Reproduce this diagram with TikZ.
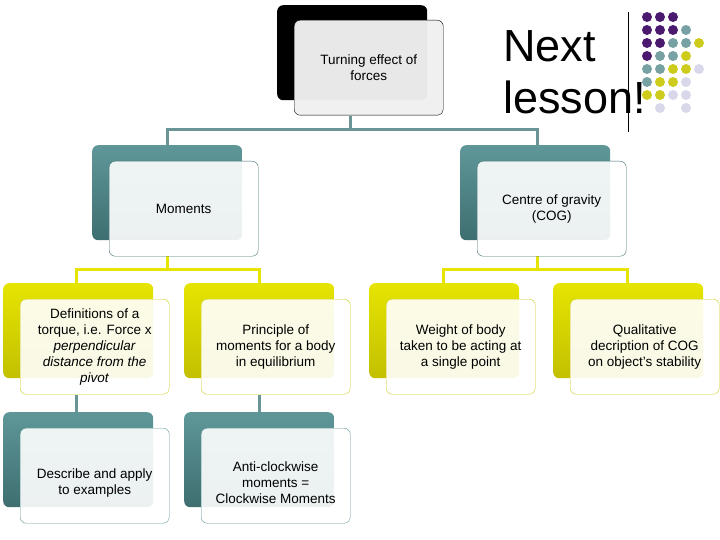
\documentclass[tikz,border=0pt]{standalone}
\usepackage{fontspec}
\setmainfont{Liberation Sans}
\begin{document}
\begin{tikzpicture}[x=1pt,y=-1pt,
  back/.style={rounded corners=6pt,minimum width=150pt,minimum height=95pt,anchor=north west,inner sep=0},
  bk/.style={back,fill=black},
  bt/.style={back,top color=teal1,bottom color=teal2},
  by/.style={back,top color=yel1,bottom color=yel2},
  front/.style={rounded corners=6pt,minimum width=149pt,minimum height=95pt,anchor=north west,draw=#1,fill=white,fill opacity=0.9,text opacity=1,align=center,font=\fontsize{13.5}{16}\selectfont},
  lt/.style={line width=3pt,draw=lteal},
  ly/.style={line width=3pt,draw=yel1},
  dot/.style={circle,inner sep=0,minimum size=10pt}]
\definecolor{teal1}{HTML}{5F9799}
\definecolor{teal2}{HTML}{3E6E70}
\definecolor{yel1}{HTML}{E6E400}
\definecolor{yel2}{HTML}{C2C000}
\definecolor{lteal}{HTML}{6A9596}
\definecolor{pu}{HTML}{4B1A6E}
\definecolor{te}{HTML}{77A1A3}
\definecolor{ye}{HTML}{CDCC1C}
\definecolor{la}{HTML}{D8D8EA}
\useasboundingbox (0,0) rectangle (720,540);
% connectors
\draw[lt] (350,116) -- (350,130);
\draw[lt] (167,145) |- (537,130) -- (537,145);
\draw[ly] (167,256) -- (167,269);
\draw[ly] (76,283) |- (259,269) -- (259,283);
\draw[ly] (537,256) -- (537,269);
\draw[ly] (443,283) |- (627,269) -- (627,283);
\draw[lt] (76,395) -- (76,412);
\draw[lt] (259,395) -- (259,412);
% top
\node[bk] (tb) at (277,5) {};
\node[front=black,fill=gray!12,fill opacity=0.97] (t) at (294,20) {Turning effect of\\forces};
% level 2
\node[bt] (mb) at (92,145) {};
\node[front=teal2] (m) at (109,161) {Moments};
\node[bt] (cb) at (460,145) {};
\node[front=teal2] (c) at (477,161) {Centre of gravity\\(COG)};
% level 3
\node[by] (d1b) at (3,283) {};
\node[front=ye] (d1) at (20,299) {Definitions of a\\torque, i.e. Force x\\\textit{perpendicular}\\\textit{distance from the}\\\textit{pivot}};
\node[by] (d2b) at (184,283) {};
\node[front=ye] (d2) at (201,299) {Principle of\\moments for a body\\in equilibrium};
\node[by] (d3b) at (369,283) {};
\node[front=ye] (d3) at (386,299) {Weight of body\\taken to be acting at\\a single point};
\node[by] (d4b) at (553,283) {};
\node[front=ye] (d4) at (570,299) {Qualitative\\decription of COG\\on object's stability};
% level 4
\node[bt] (e1b) at (3,412) {};
\node[front=teal1] (e1) at (20,428) {\\[8pt]Describe and apply\\to examples};
\node[bt] (e2b) at (184,412) {};
\node[front=teal1] (e2) at (201,428) {\\[8pt]Anti-clockwise\\moments =\\Clockwise Moments};
% title
\node[anchor=north west,align=left,font=\fontsize{45}{52}\selectfont,inner sep=0] (nl) at (503,30) {Next\\lesson!};
\draw[line width=0.8pt] (628,12) -- (628,132);
% dots
\foreach \r/\cols in {0/{pu,pu,pu},1/{pu,pu,pu,te},2/{pu,pu,te,te,ye},3/{pu,te,te,ye},4/{te,te,ye,ye,la},5/{te,ye,ye,la},6/{ye,ye,la,la}}{
  \foreach \c [count=\i from 0] in \cols {
    \node[dot,fill=\c] (d\r\i) at (647+13*\i,17+13*\r) {};
  }
}
\node[dot,fill=la] (d71) at (660,108) {};
\node[dot,fill=la] (d73) at (686,108) {};
\end{tikzpicture}
\end{document}
